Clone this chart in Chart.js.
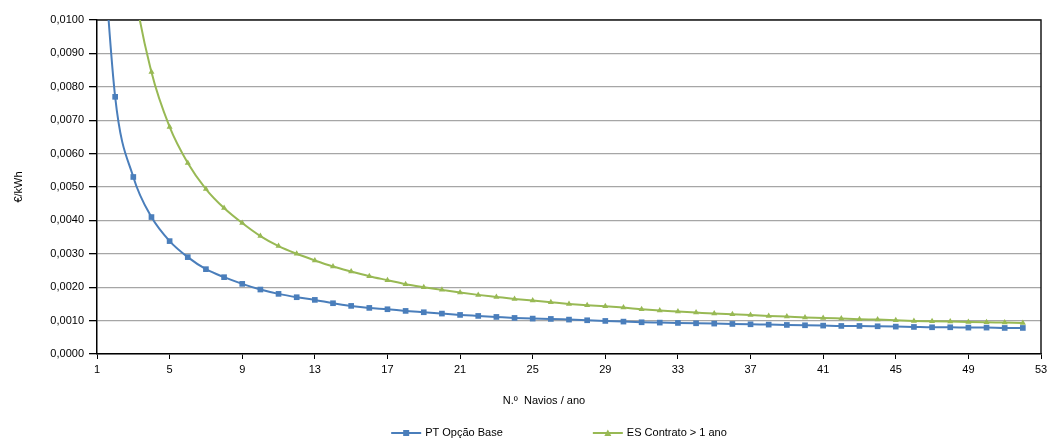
<!DOCTYPE html>
<html>
<head>
<meta charset="utf-8">
<title>Custo por navio</title>
<script src="https://cdn.jsdelivr.net/npm/chart.js@4.4.1/dist/chart.umd.min.js"></script>
<style>
  html, body { margin: 0; padding: 0; background: #fff; }
  #wrap { width: 1047px; height: 438px; position: relative; }
</style>
</head>
<body>
<div id="wrap"><canvas id="custoChart"></canvas></div>
<script>
// navios por ano (eixo x)
const navios = [];
for (let n = 1; n <= 52; n++) navios.push(n);

// €/kWh - PT Opção Base
const ptOpcaoBase = [
  0.01500, 0.00770, 0.00530, 0.00410, 0.00338, 0.00290, 0.00254, 0.00230, 0.00210, 0.00193,
  0.00180, 0.00170, 0.00162, 0.00152, 0.00144, 0.00138, 0.00134, 0.00129, 0.00125, 0.00121,
  0.00117, 0.00114, 0.00111, 0.00108, 0.00106, 0.00105, 0.00103, 0.00101, 0.00099, 0.00097,
  0.00095, 0.00094, 0.00093, 0.00092, 0.00091, 0.00090, 0.00089, 0.00088, 0.00087, 0.00086,
  0.00085, 0.00084, 0.00084, 0.00083, 0.00082, 0.00081, 0.00080, 0.00080, 0.00079, 0.00079,
  0.00078, 0.00078
];

// €/kWh - ES Contrato > 1 ano
const esContrato = [
  0.03300, 0.01660, 0.01120, 0.00844, 0.00680, 0.00572, 0.00494, 0.00437, 0.00392, 0.00353,
  0.00323, 0.00300, 0.00280, 0.00262, 0.00247, 0.00233, 0.00221, 0.00209, 0.00200, 0.00192,
  0.00184, 0.00177, 0.00171, 0.00165, 0.00160, 0.00155, 0.00150, 0.00146, 0.00143, 0.00139,
  0.00134, 0.00130, 0.00127, 0.00124, 0.00121, 0.00119, 0.00117, 0.00114, 0.00112, 0.00109,
  0.00108, 0.00106, 0.00104, 0.00103, 0.00101, 0.00099, 0.00098, 0.00097, 0.00096, 0.00095,
  0.00094, 0.00093
];

const BLUE = '#4a7ebb';
const GREEN = '#98b954';
const FONT = '"Liberation Sans", Arial, sans-serif';
const TITULO_X = 'N.º  Navios / ano';

const pontos = (ys) => navios.map((n, i) => ({ x: n, y: ys[i] }));

// moldura da área do gráfico (lados de cima e direita)
const moldura = {
  id: 'moldura',
  beforeDatasetsDraw(chart) {
    const { ctx, chartArea: a } = chart;
    ctx.save();
    ctx.strokeStyle = '#1a1a1a';
    ctx.lineWidth = 1.5;
    ctx.beginPath();
    ctx.moveTo(a.left, a.top);
    ctx.lineTo(a.right, a.top);
    ctx.lineTo(a.right, a.bottom);
    ctx.stroke();
    ctx.restore();
  }
};

// título do eixo x e legenda desenhados à mão: linha + marcador, espaço largo entre itens
const legendaLinha = {
  id: 'legendaLinha',
  afterDraw(chart) {
    const ctx = chart.ctx;
    ctx.save();
    ctx.font = '11px ' + FONT;
    ctx.textBaseline = 'middle';
    ctx.fillStyle = '#000';
    ctx.textAlign = 'center';
    ctx.fillText(TITULO_X, 544, 401);

    const y = 433;
    const iconW = 30, gapTexto = 4, gapItens = 90;
    const sets = chart.data.datasets;
    const larguras = sets.map(ds => iconW + gapTexto + ctx.measureText(ds.label).width);
    const total = larguras.reduce((a, b) => a + b, 0) + gapItens * (sets.length - 1);
    let x = 559 - total / 2;
    sets.forEach((ds, i) => {
      ctx.strokeStyle = ds.borderColor;
      ctx.fillStyle = ds.borderColor;
      ctx.lineWidth = 2;
      ctx.beginPath(); ctx.moveTo(x, y); ctx.lineTo(x + iconW, y); ctx.stroke();
      const cx = x + iconW / 2;
      if (ds.pointStyle === 'rect') {
        ctx.fillRect(cx - 3, y - 3, 6, 6);
      } else {
        ctx.beginPath(); ctx.moveTo(cx, y - 3.5); ctx.lineTo(cx + 3.5, y + 3); ctx.lineTo(cx - 3.5, y + 3); ctx.closePath(); ctx.fill();
      }
      ctx.fillStyle = '#000';
      ctx.textAlign = 'left';
      ctx.fillText(ds.label, x + iconW + gapTexto, y);
      x += larguras[i] + gapItens;
    });
    ctx.restore();
  }
};

new Chart(document.getElementById('custoChart'), {
  type: 'line',
  data: {
    datasets: [
      {
        label: 'PT Opção Base',
        data: pontos(ptOpcaoBase),
        borderColor: BLUE,
        backgroundColor: BLUE,
        borderWidth: 2,
        pointStyle: 'rect',
        pointRadius: 4,
        pointBorderWidth: 0,
        cubicInterpolationMode: 'monotone'
      },
      {
        label: 'ES Contrato > 1 ano',
        data: pontos(esContrato),
        borderColor: GREEN,
        backgroundColor: GREEN,
        borderWidth: 2,
        pointStyle: 'triangle',
        pointRadius: 3.5,
        pointBorderWidth: 0,
        cubicInterpolationMode: 'monotone'
      }
    ]
  },
  options: {
    responsive: true,
    maintainAspectRatio: false,
    animation: false,
    layout: { padding: { left: 0, right: 0, top: 20, bottom: 22 } },
    scales: {
      x: {
        type: 'linear',
        min: 1,
        max: 53,
        border: { color: '#000', width: 1.5 },
        grid: { drawOnChartArea: false, color: '#000', tickLength: 5 },
        ticks: { stepSize: 4, color: '#000', font: { family: FONT, size: 11 }, maxRotation: 0, padding: 4 },
        afterFit: (s) => { s.height = 62; s.paddingRight = 6; }
      },
      y: {
        min: 0,
        max: 0.01,
        border: { color: '#000', width: 1.5 },
        grid: { color: '#a6a6a6', lineWidth: 1.3, tickColor: '#000', tickLength: 8 },
        ticks: {
          stepSize: 0.001,
          color: '#000',
          font: { family: FONT, size: 11 },
          padding: 5,
          callback: (v) => v.toFixed(4).replace('.', ',')
        },
        title: { display: true, text: '€/kWh', color: '#000', font: { family: FONT, size: 11 }, padding: { top: 12, bottom: 4 } },
        afterFit: (s) => { s.width = 97; }
      }
    },
    plugins: {
      legend: { display: false },
      tooltip: { enabled: false }
    }
  },
  plugins: [moldura, legendaLinha]
});
</script>
</body>
</html>
